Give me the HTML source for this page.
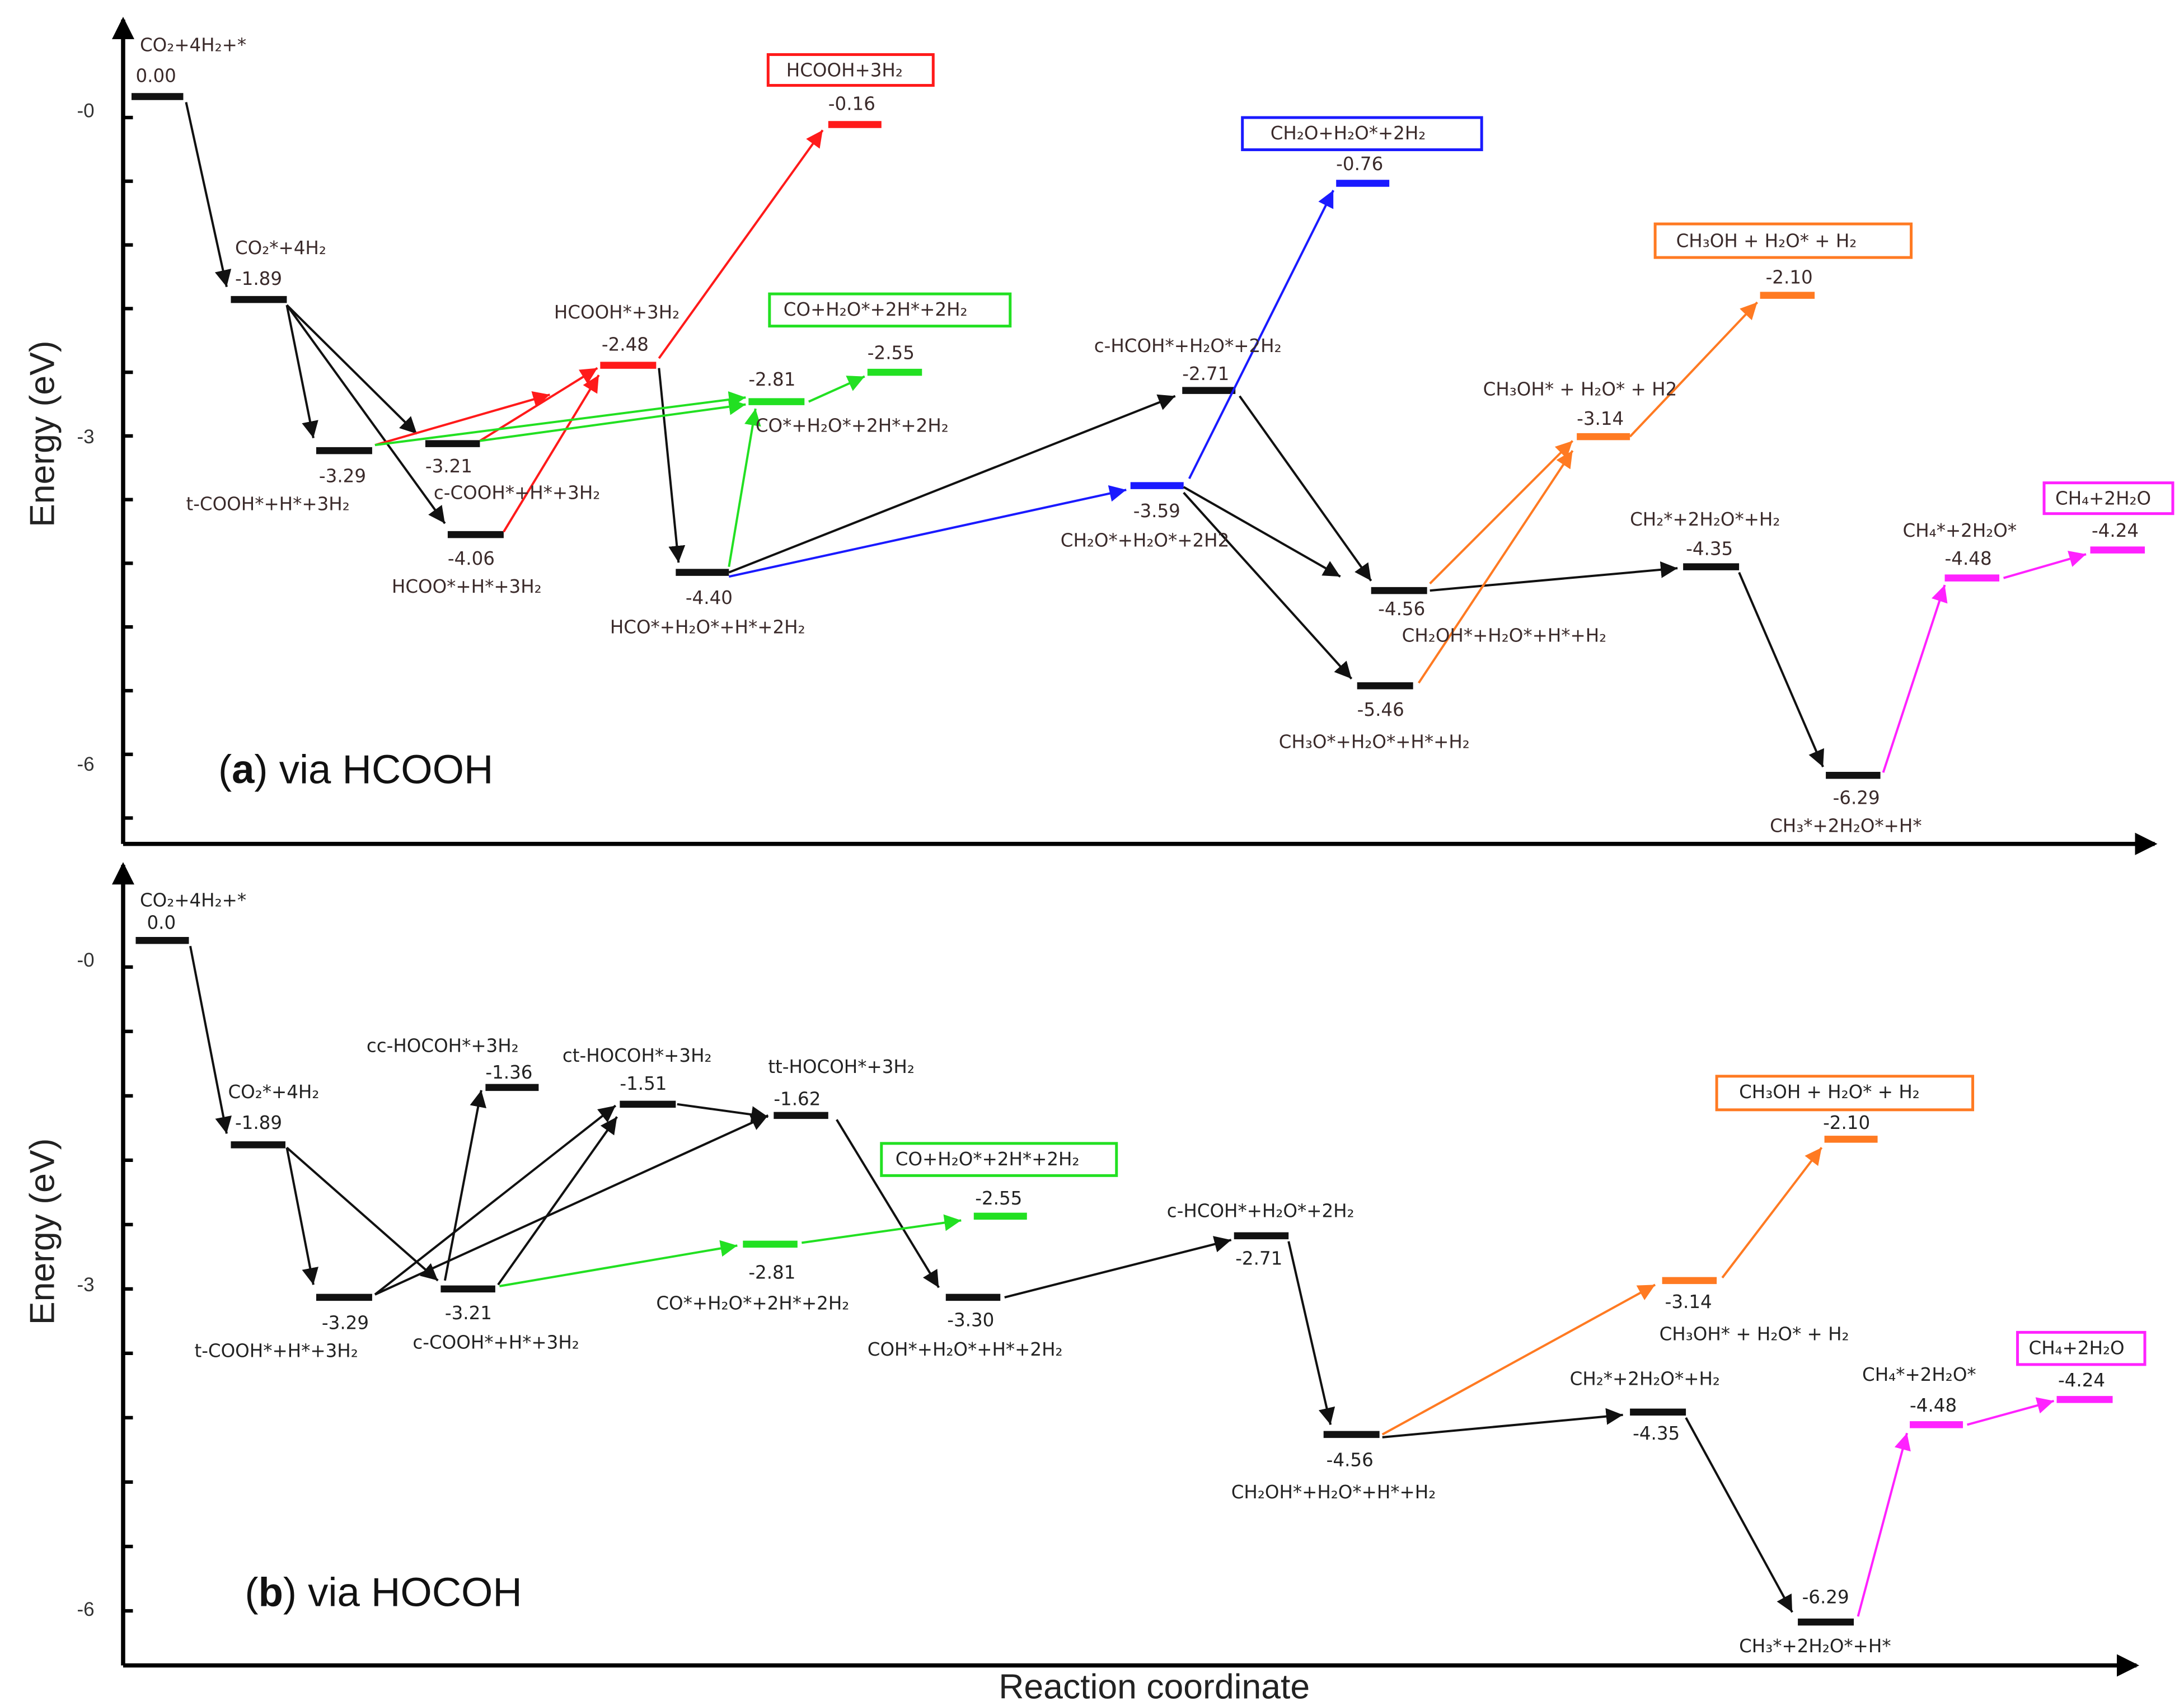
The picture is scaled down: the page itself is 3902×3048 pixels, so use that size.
<!DOCTYPE html>
<html><head><meta charset="utf-8"><style>
html,body{margin:0;padding:0;background:#fff}
svg{display:block}
text{font-family:"DejaVu Sans","Liberation Sans",sans-serif;font-size:13px;fill:#3a2a2a;dominant-baseline:middle}
.b text{fill:#222}
.big{font-family:"Liberation Sans",sans-serif;font-size:29px;fill:#111}
.ax{font-family:"Liberation Sans",sans-serif;font-size:25px;fill:#222}
.tk{font-family:"Liberation Sans",sans-serif;font-size:14px;fill:#333}
</style></head><body>
<svg width="3902" height="3048" viewBox="0 0 1561 1219" preserveAspectRatio="none" xmlns="http://www.w3.org/2000/svg">
<defs>
<marker id="mk" markerUnits="userSpaceOnUse" markerWidth="14" markerHeight="12" refX="12" refY="6" orient="auto"><path d="M0,0 L12,6 L0,12 Z" fill="#111"/></marker>
<marker id="mr" markerUnits="userSpaceOnUse" markerWidth="14" markerHeight="12" refX="12" refY="6" orient="auto"><path d="M0,0 L12,6 L0,12 Z" fill="#ff1a1a"/></marker>
<marker id="mg" markerUnits="userSpaceOnUse" markerWidth="14" markerHeight="12" refX="12" refY="6" orient="auto"><path d="M0,0 L12,6 L0,12 Z" fill="#22e022"/></marker>
<marker id="mb" markerUnits="userSpaceOnUse" markerWidth="14" markerHeight="12" refX="12" refY="6" orient="auto"><path d="M0,0 L12,6 L0,12 Z" fill="#1a1aff"/></marker>
<marker id="mo" markerUnits="userSpaceOnUse" markerWidth="14" markerHeight="12" refX="12" refY="6" orient="auto"><path d="M0,0 L12,6 L0,12 Z" fill="#ff7a22"/></marker>
<marker id="mm" markerUnits="userSpaceOnUse" markerWidth="14" markerHeight="12" refX="12" refY="6" orient="auto"><path d="M0,0 L12,6 L0,12 Z" fill="#ff22ff"/></marker>
<marker id="ma" markerUnits="userSpaceOnUse" markerWidth="16" markerHeight="16" refX="14" refY="8" orient="auto"><path d="M0,0 L16,8 L0,16 Z" fill="#000"/></marker>
</defs>

<!-- ===== Panel A axes ===== -->
<g stroke="#000" stroke-width="3">
<line x1="88" y1="603" x2="88" y2="14" marker-end="url(#ma)"/>
<line x1="88" y1="603" x2="1540" y2="603" marker-end="url(#ma)"/>
<line x1="88" y1="1190" x2="88" y2="618" marker-end="url(#ma)"/>
<line x1="88" y1="1190" x2="1527" y2="1190" marker-end="url(#ma)"/>
</g>
<g stroke="#000" stroke-width="2.5">
<line x1="88" y1="84" x2="95" y2="84"/><line x1="88" y1="129.5" x2="95" y2="129.5"/><line x1="88" y1="175" x2="95" y2="175"/><line x1="88" y1="220.5" x2="95" y2="220.5"/><line x1="88" y1="266" x2="95" y2="266"/><line x1="88" y1="311.5" x2="95" y2="311.5"/><line x1="88" y1="357" x2="95" y2="357"/><line x1="88" y1="402.5" x2="95" y2="402.5"/><line x1="88" y1="448" x2="95" y2="448"/><line x1="88" y1="493.5" x2="95" y2="493.5"/><line x1="88" y1="539" x2="95" y2="539"/><line x1="88" y1="584.5" x2="95" y2="584.5"/>
<line x1="88" y1="691" x2="95" y2="691"/><line x1="88" y1="737" x2="95" y2="737"/><line x1="88" y1="783" x2="95" y2="783"/><line x1="88" y1="829" x2="95" y2="829"/><line x1="88" y1="875" x2="95" y2="875"/><line x1="88" y1="921" x2="95" y2="921"/><line x1="88" y1="967" x2="95" y2="967"/><line x1="88" y1="1013" x2="95" y2="1013"/><line x1="88" y1="1059" x2="95" y2="1059"/><line x1="88" y1="1105" x2="95" y2="1105"/><line x1="88" y1="1151" x2="95" y2="1151"/>
</g>
<text class="tk" x="55" y="80">-0</text><text class="tk" x="55" y="313">-3</text><text class="tk" x="55" y="547">-6</text>
<text class="tk" x="55" y="687">-0</text><text class="tk" x="55" y="919">-3</text><text class="tk" x="55" y="1151">-6</text>
<text class="ax" transform="translate(32,310) rotate(-90)" text-anchor="middle">Energy (eV)</text>
<text class="ax" transform="translate(32,880) rotate(-90)" text-anchor="middle">Energy (eV)</text>
<text class="ax" x="825" y="1207" text-anchor="middle">Reaction coordinate</text>
<text class="big" x="156" y="552">(<tspan font-weight="bold">a</tspan>) via HCOOH</text>
<text class="big" x="175" y="1140">(<tspan font-weight="bold">b</tspan>) via HOCOH</text>

<!-- ===== Panel A bars ===== -->
<g stroke-width="5" fill="none">
<g stroke="#111">
<line x1="94" y1="69" x2="131" y2="69"/><line x1="165" y1="214" x2="205" y2="214"/><line x1="226" y1="322" x2="266" y2="322"/><line x1="304" y1="317" x2="343" y2="317"/><line x1="320" y1="382" x2="360" y2="382"/><line x1="483" y1="409" x2="521" y2="409"/><line x1="845" y1="279" x2="883" y2="279"/><line x1="980" y1="422" x2="1020" y2="422"/><line x1="970" y1="490" x2="1010" y2="490"/><line x1="1203" y1="405" x2="1243" y2="405"/><line x1="1305" y1="554" x2="1344" y2="554"/>
</g>
<g stroke="#ff1a1a"><line x1="429" y1="261" x2="469" y2="261"/><line x1="592" y1="89" x2="630" y2="89"/></g>
<g stroke="#22e022"><line x1="535" y1="287" x2="575" y2="287"/><line x1="620" y1="266" x2="659" y2="266"/></g>
<g stroke="#1a1aff"><line x1="808" y1="347" x2="846" y2="347"/><line x1="955" y1="131" x2="993" y2="131"/></g>
<g stroke="#ff7a22"><line x1="1127" y1="312" x2="1165" y2="312"/><line x1="1258" y1="211" x2="1297" y2="211"/></g>
<g stroke="#ff22ff"><line x1="1390" y1="413" x2="1429" y2="413"/><line x1="1494" y1="393" x2="1533" y2="393"/></g>
</g>

<!-- ===== Panel A arrows ===== -->
<g stroke-width="1.6" fill="none">
<g stroke="#111" marker-end="url(#mk)">
<line x1="133" y1="73" x2="162" y2="205"/><line x1="205" y1="218" x2="224" y2="313"/><line x1="205" y1="218" x2="298" y2="310"/><line x1="205" y1="218" x2="318" y2="374"/><line x1="471" y1="263" x2="485" y2="402"/><line x1="521" y1="409" x2="840" y2="283"/><line x1="886" y1="283" x2="980" y2="415"/><line x1="846" y1="348" x2="958" y2="412"/><line x1="846" y1="352" x2="966" y2="485"/><line x1="1022" y1="422" x2="1199" y2="406"/><line x1="1243" y1="409" x2="1303" y2="548"/>
</g>
<g stroke="#ff1a1a" marker-end="url(#mr)">
<line x1="268" y1="318" x2="393" y2="282"/><line x1="343" y1="315" x2="427" y2="263"/><line x1="360" y1="380" x2="428" y2="268"/><line x1="471" y1="256" x2="588" y2="93"/>
</g>
<g stroke="#22e022" marker-end="url(#mg)">
<line x1="268" y1="318" x2="533" y2="284"/><line x1="343" y1="315" x2="533" y2="289"/><line x1="521" y1="405" x2="540" y2="292"/><line x1="578" y1="287" x2="618" y2="269"/>
</g>
<g stroke="#1a1aff" marker-end="url(#mb)">
<line x1="521" y1="412" x2="805" y2="350"/><line x1="850" y1="342" x2="953" y2="136"/>
</g>
<g stroke="#ff7a22" marker-end="url(#mo)">
<line x1="1022" y1="417" x2="1124" y2="315"/><line x1="1014" y1="488" x2="1124" y2="322"/><line x1="1165" y1="312" x2="1256" y2="216"/>
</g>
<g stroke="#ff22ff" marker-end="url(#mm)">
<line x1="1346" y1="552" x2="1390" y2="418"/><line x1="1432" y1="413" x2="1491" y2="396"/>
</g>
</g>

<!-- ===== Panel A labels ===== -->
<g>
<text x="100" y="33">CO₂+4H₂+*</text><text x="97" y="55">0.00</text>
<text x="168" y="178">CO₂*+4H₂</text><text x="168" y="200">-1.89</text>
<text x="228" y="341">-3.29</text><text x="133" y="361">t-COOH*+H*+3H₂</text>
<text x="304" y="334">-3.21</text><text x="310" y="353">c-COOH*+H*+3H₂</text>
<text x="320" y="400">-4.06</text><text x="280" y="420">HCOO*+H*+3H₂</text>
<text x="396" y="224">HCOOH*+3H₂</text><text x="430" y="247">-2.48</text>
<rect x="549" y="39" width="118" height="22" fill="none" stroke="#ff1a1a" stroke-width="2"/>
<text x="562" y="51">HCOOH+3H₂</text><text x="592" y="75">-0.16</text>
<text x="490" y="428">-4.40</text><text x="436" y="449">HCO*+H₂O*+H*+2H₂</text>
<rect x="550" y="210" width="172" height="23" fill="none" stroke="#22e022" stroke-width="2"/>
<text x="560" y="222">CO+H₂O*+2H*+2H₂</text><text x="620" y="253">-2.55</text>
<text x="535" y="272">-2.81</text><text x="540" y="305">CO*+H₂O*+2H*+2H₂</text>
<text x="782" y="248">c-HCOH*+H₂O*+2H₂</text><text x="845" y="268">-2.71</text>
<text x="810" y="366">-3.59</text><text x="758" y="387">CH₂O*+H₂O*+2H2</text>
<rect x="888" y="84" width="171" height="23" fill="none" stroke="#1a1aff" stroke-width="2"/>
<text x="908" y="96">CH₂O+H₂O*+2H₂</text><text x="955" y="118">-0.76</text>
<rect x="1183" y="160" width="183" height="24" fill="none" stroke="#ff7a22" stroke-width="2"/>
<text x="1198" y="173">CH₃OH + H₂O* + H₂</text><text x="1262" y="199">-2.10</text>
<text x="1060" y="279">CH₃OH* + H₂O* + H2</text><text x="1127" y="300">-3.14</text>
<text x="985" y="436">-4.56</text><text x="1002" y="455">CH₂OH*+H₂O*+H*+H₂</text>
<text x="970" y="508">-5.46</text><text x="914" y="531">CH₃O*+H₂O*+H*+H₂</text>
<text x="1165" y="372">CH₂*+2H₂O*+H₂</text><text x="1205" y="393">-4.35</text>
<text x="1310" y="571">-6.29</text><text x="1265" y="591">CH₃*+2H₂O*+H*</text>
<text x="1360" y="380">CH₄*+2H₂O*</text><text x="1390" y="400">-4.48</text>
<rect x="1461" y="345" width="92" height="22" fill="none" stroke="#ff22ff" stroke-width="2"/>
<text x="1469" y="357">CH₄+2H₂O</text><text x="1495" y="380">-4.24</text>
</g>

<!-- ===== Panel B bars ===== -->
<g stroke-width="5" fill="none">
<g stroke="#111">
<line x1="97" y1="672" x2="135" y2="672"/><line x1="165" y1="818" x2="204" y2="818"/><line x1="226" y1="927" x2="266" y2="927"/><line x1="315" y1="921" x2="354" y2="921"/><line x1="347" y1="777" x2="385" y2="777"/><line x1="443" y1="789" x2="483" y2="789"/><line x1="553" y1="797" x2="592" y2="797"/><line x1="676" y1="927" x2="715" y2="927"/><line x1="882" y1="883" x2="921" y2="883"/><line x1="946" y1="1025" x2="986" y2="1025"/><line x1="1165" y1="1009" x2="1205" y2="1009"/><line x1="1285" y1="1159" x2="1325" y2="1159"/>
</g>
<g stroke="#22e022"><line x1="531" y1="889" x2="570" y2="889"/><line x1="696" y1="869" x2="734" y2="869"/></g>
<g stroke="#ff7a22"><line x1="1188" y1="915" x2="1227" y2="915"/><line x1="1304" y1="814" x2="1342" y2="814"/></g>
<g stroke="#ff22ff"><line x1="1365" y1="1018" x2="1403" y2="1018"/><line x1="1470" y1="1000" x2="1510" y2="1000"/></g>
</g>

<!-- ===== Panel B arrows ===== -->
<g stroke-width="1.6" fill="none">
<g stroke="#111" marker-end="url(#mk)">
<line x1="136" y1="676" x2="162" y2="810"/><line x1="205" y1="820" x2="224" y2="918"/><line x1="205" y1="820" x2="313" y2="915"/><line x1="268" y1="925" x2="440" y2="790"/><line x1="268" y1="925" x2="549" y2="797"/><line x1="318" y1="915" x2="344" y2="779"/><line x1="356" y1="918" x2="441" y2="798"/><line x1="484" y1="789" x2="549" y2="798"/><line x1="598" y1="800" x2="671" y2="920"/><line x1="718" y1="927" x2="880" y2="886"/><line x1="921" y1="887" x2="951" y2="1018"/><line x1="988" y1="1027" x2="1160" y2="1011"/><line x1="1205" y1="1013" x2="1281" y2="1152"/>
</g>
<g stroke="#22e022" marker-end="url(#mg)"><line x1="357" y1="919" x2="527" y2="890"/><line x1="573" y1="888" x2="687" y2="872"/></g>
<g stroke="#ff7a22" marker-end="url(#mo)"><line x1="988" y1="1025" x2="1183" y2="918"/><line x1="1231" y1="913" x2="1302" y2="820"/></g>
<g stroke="#ff22ff" marker-end="url(#mm)"><line x1="1328" y1="1155" x2="1363" y2="1024"/><line x1="1406" y1="1018" x2="1468" y2="1001"/></g>
</g>

<!-- ===== Panel B labels ===== -->
<g class="b">
<text x="100" y="644">CO₂+4H₂+*</text><text x="105" y="660">0.0</text>
<text x="163" y="781">CO₂*+4H₂</text><text x="168" y="803">-1.89</text>
<text x="230" y="946">-3.29</text><text x="139" y="966">t-COOH*+H*+3H₂</text>
<text x="318" y="939">-3.21</text><text x="295" y="960">c-COOH*+H*+3H₂</text>
<text x="262" y="748">cc-HOCOH*+3H₂</text><text x="347" y="767">-1.36</text>
<text x="402" y="755">ct-HOCOH*+3H₂</text><text x="443" y="775">-1.51</text>
<text x="549" y="763">tt-HOCOH*+3H₂</text><text x="553" y="786">-1.62</text>
<rect x="630" y="817" width="168" height="23" fill="none" stroke="#22e022" stroke-width="2"/>
<text x="640" y="829">CO+H₂O*+2H*+2H₂</text><text x="697" y="857">-2.55</text>
<text x="535" y="910">-2.81</text><text x="469" y="932">CO*+H₂O*+2H*+2H₂</text>
<text x="677" y="944">-3.30</text><text x="620" y="965">COH*+H₂O*+H*+2H₂</text>
<text x="834" y="866">c-HCOH*+H₂O*+2H₂</text><text x="883" y="900">-2.71</text>
<text x="948" y="1044">-4.56</text><text x="880" y="1067">CH₂OH*+H₂O*+H*+H₂</text>
<rect x="1227" y="769" width="183" height="24" fill="none" stroke="#ff7a22" stroke-width="2"/>
<text x="1243" y="781">CH₃OH + H₂O* + H₂</text><text x="1303" y="803">-2.10</text>
<text x="1190" y="931">-3.14</text><text x="1186" y="954">CH₃OH* + H₂O* + H₂</text>
<text x="1122" y="986">CH₂*+2H₂O*+H₂</text><text x="1167" y="1025">-4.35</text>
<text x="1288" y="1142">-6.29</text><text x="1243" y="1177">CH₃*+2H₂O*+H*</text>
<text x="1331" y="983">CH₄*+2H₂O*</text><text x="1365" y="1005">-4.48</text>
<rect x="1442" y="952" width="91" height="23" fill="none" stroke="#ff22ff" stroke-width="2"/>
<text x="1450" y="964">CH₄+2H₂O</text><text x="1471" y="987">-4.24</text>
</g>
</svg>
</body></html>
